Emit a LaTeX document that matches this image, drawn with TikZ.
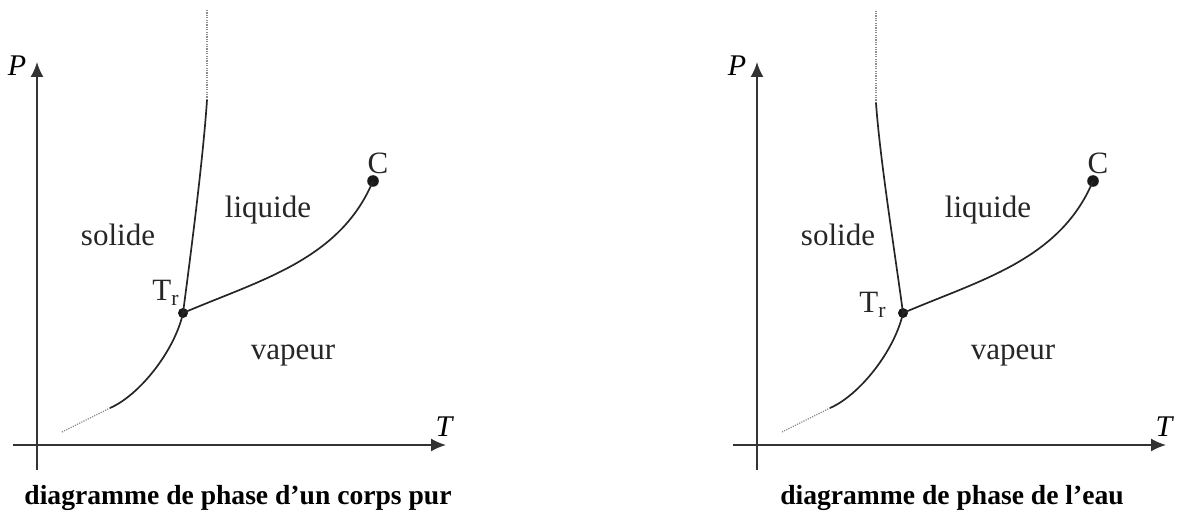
\documentclass[tikz,border=0pt]{standalone}
\usepackage{fontspec}
\setmainfont{Liberation Serif}
\usetikzlibrary{arrows.meta}

\begin{document}
\begin{tikzpicture}[
  x=0.5pt, y=-0.5pt,
  axis/.style={-{Latex[length=7.5pt,width=6.5pt]}, draw=black!80, line width=0.9pt},
  coexist/.style={draw=black!85, line width=0.85pt},
  coexist_faded/.style={draw=black!45, line width=0.6pt, dash pattern=on 0.6pt off 0.6pt},
  phase_pt/.style={circle, fill=black!90, inner sep=0pt, minimum size=5pt},
  crit_pt/.style={phase_pt, minimum size=5.8pt},
  phase_lbl/.style={font=\fontsize{15.5}{18}\selectfont, text=black!85, inner sep=0pt},
  axis_lbl/.style={font=\fontsize{15}{18}\selectfont\itshape, inner sep=0pt},
  caption/.style={font=\fontsize{13.8}{16}\selectfont\bfseries, inner sep=0pt}
]
\useasboundingbox (0,0) rectangle (1179,519);

% Both diagrams share axes, sublimation and vaporisation curves
\foreach \d/\dx in {a/0,b/720} {
  \begin{scope}[shift={(\dx,0)}]
    % axes
    \coordinate (\d T0) at (13,445);
    \coordinate (\d T1) at (446,445);
    \coordinate (\d P0) at (37,470);
    \coordinate (\d P1) at (37,62);
    \draw[axis] (\d T0) -- (\d T1);
    \draw[axis] (\d P0) -- (\d P1);
    \node[axis_lbl] (\d Plbl) at (17,66) {P};
    \node[axis_lbl] (\d Tlbl) at (444,427) {T};
    % triple and critical points
    \node[phase_pt] (\d tr) at (183,313) {};
    \node[crit_pt] (\d crit) at (373,181) {};
    \node[phase_lbl] (\d Clbl) at (378,163) {C};
    % sublimation: faded start, then solid up to T_r
    \coordinate (\d sub0) at (62,432);
    \coordinate (\d sub1) at (110,408);
    \draw[coexist_faded] (\d sub0) -- (\d sub1);
    \draw[coexist] (\d sub1) .. controls (140,395) and (175,350) .. (\d tr.center);
    % vaporisation
    \draw[coexist] (\d tr.center) .. controls (260,280) and (340,260) .. (\d crit.center);
    % phase names
    \node[phase_lbl] (\d sol) at (118,235) {solide};
    \node[phase_lbl] (\d liq) at (268,210) {liquide};
    \node[phase_lbl] (\d vap) at (293,355) {vapeur};
  \end{scope}
}

% Fusion curve, pure substance (leans right)
\coordinate (afus) at (207,100);
\coordinate (afus0) at (207,10);
\draw[coexist_faded] (afus) -- (afus0);
\draw[coexist] (atr.center) .. controls +(7,-53) and +(-4,60) .. (afus);

% Fusion curve, water (leans left)
\coordinate (bfus) at (876,103);
\coordinate (bfus0) at (876,10);
\draw[coexist_faded] (bfus) -- (bfus0);
\draw[coexist] (btr.center) .. controls +(-7,-53) and +(4,57) .. (bfus);

% Labels
\node[phase_lbl] (atrlbl) at (166,293) {T\textsubscript{r}};
\node[phase_lbl] (btrlbl) at (873,305) {T\textsubscript{r}};
\node[caption] (acap) at (238,498) {diagramme de phase d’un corps pur};
\node[caption] (bcap) at (952,498) {diagramme de phase de l’eau};

\end{tikzpicture}
\end{document}
